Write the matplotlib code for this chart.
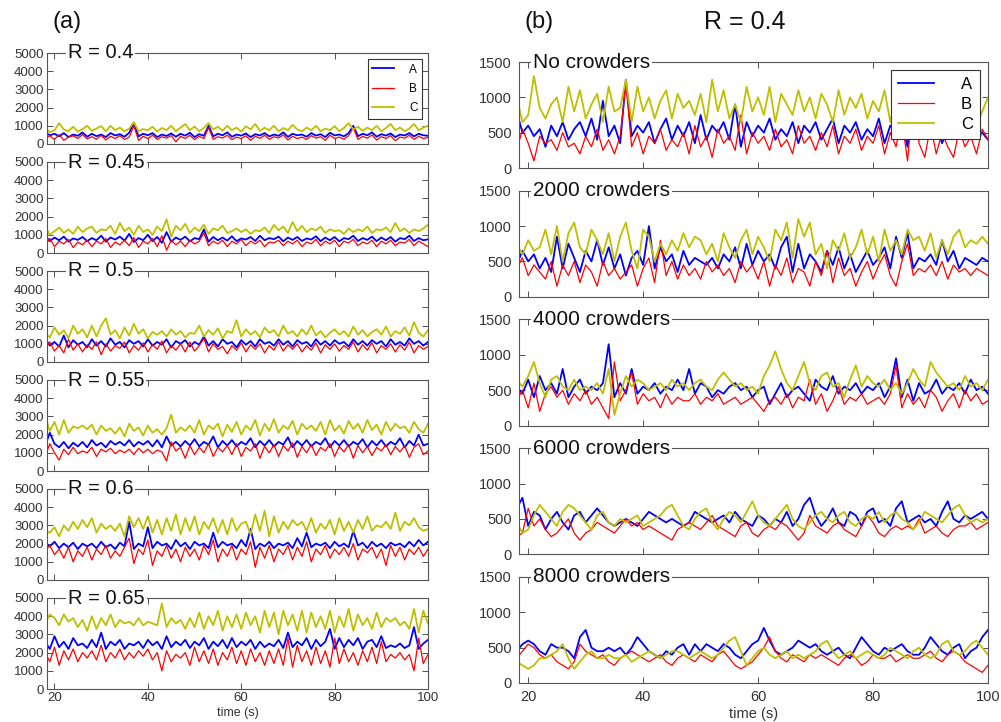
import numpy as np
import matplotlib
matplotlib.use('Agg')
import matplotlib.pyplot as plt

plt.rcParams['font.family'] = ['Liberation Sans', 'DejaVu Sans']

# sample times (s), one value per second
t_start = 18

# ---- panel (a): R sweep ----
a_labels = ['R = 0.4', 'R = 0.45', 'R = 0.5', 'R = 0.55', 'R = 0.6', 'R = 0.65']

r040_A = [650, 480, 560, 420, 600, 380, 520, 450, 640, 400, 560, 430, 520, 380, 600, 470, 540, 400, 620, 1150,
          420, 560, 480, 600, 380, 520, 440, 580, 400, 560, 460, 620, 380, 540, 450, 1000, 420, 560, 480, 640,
          400, 520, 460, 580, 380, 540, 470, 600, 420, 520, 450, 640, 390, 560, 480, 520, 400, 600, 460, 540,
          380, 620, 470, 520, 420, 600, 1000, 430, 560, 480, 640, 400, 540, 460, 580, 380, 520, 470, 600, 420,
          560, 480, 450]
r040_B = [300, 450, 250, 520, 200, 380, 450, 300, 520, 280, 400, 260, 480, 220, 420, 300, 460, 250, 380, 1000,
          200, 420, 300, 480, 250, 400, 320, 460, 120, 420, 300, 480, 240, 420, 300, 900, 260, 400, 330, 480,
          240, 380, 300, 450, 200, 420, 310, 480, 260, 400, 330, 500, 220, 420, 300, 380, 250, 460, 320, 400,
          200, 480, 300, 380, 260, 460, 900, 250, 420, 320, 500, 220, 400, 300, 460, 180, 380, 320, 480, 260,
          420, 300, 360]
r040_C = [900, 650, 750, 1150, 800, 700, 950, 680, 820, 1000, 720, 850, 980, 700, 1000, 760, 900, 700, 850, 1200,
          700, 820, 760, 950, 680, 880, 760, 1000, 700, 900, 1100, 760, 960, 700, 880, 1150, 800, 950, 720, 1000,
          760, 900, 680, 980, 800, 1100, 720, 900, 760, 1000, 700, 880, 760, 1050, 800, 700, 900, 760, 1000, 700,
          850, 760, 980, 700, 880, 1150, 800, 950, 720, 900, 760, 1000, 700, 880, 1100, 760, 900, 700, 850, 1100,
          760, 900, 1000]

r045_A = [950, 650, 850, 700, 900, 620, 800, 720, 880, 650, 820, 700, 950, 620, 850, 740, 900, 680, 1050, 600,
          820, 700, 1000, 650, 880, 560, 1150, 620, 850, 720, 900, 640, 820, 760, 1300, 620, 880, 700, 850, 680,
          920, 650, 800, 740, 880, 660, 950, 700, 820, 760, 900, 640, 850, 720, 880, 660, 800, 740, 920, 650,
          850, 700, 880, 640, 820, 760, 950, 660, 820, 720, 900, 650, 850, 700, 880, 620, 820, 760, 950, 660,
          820, 700, 750]
r045_B = [400, 800, 350, 650, 500, 750, 300, 600, 450, 700, 350, 650, 500, 800, 300, 600, 450, 700, 400, 850,
          300, 650, 500, 800, 350, 950, 150, 700, 450, 650, 350, 700, 500, 650, 1100, 400, 650, 500, 700, 350,
          650, 500, 750, 400, 650, 500, 700, 350, 600, 550, 700, 400, 650, 500, 700, 350, 600, 500, 750, 400,
          650, 500, 700, 350, 650, 550, 750, 400, 600, 500, 700, 350, 650, 500, 700, 400, 600, 550, 750, 400,
          650, 500, 350]
r045_C = [1500, 1000, 1200, 1400, 1100, 1300, 1050, 1450, 1150, 1350, 1450, 1100, 1300, 1250, 1500, 1050, 1650, 1200, 1400, 1000,
          1500, 1150, 1300, 1000, 1450, 1200, 1850, 900, 1500, 1250, 1600, 1100, 1400, 1200, 1550, 1050, 1350, 1250, 1500, 1100,
          1200, 1350, 1150, 1300, 1050, 1250, 1200, 1400, 1100, 1550, 1250, 1450, 1100, 1700, 1200, 1500, 1150, 1350, 1250, 1450,
          1100, 1300, 1200, 1250, 1050, 1350, 1150, 1300, 1200, 1450, 1100, 1300, 1250, 1400, 1150, 1650, 1200, 1350, 1100, 1300,
          1200, 1350, 1550]

r050_A = [1300, 900, 1100, 850, 1450, 800, 1200, 950, 1100, 800, 1250, 900, 1150, 850, 1300, 950, 1100, 800, 1200, 1000,
          1150, 850, 1250, 900, 1100, 950, 1250, 800, 1150, 1000, 1200, 850, 1100, 950, 1400, 900, 1150, 850, 1250, 1000,
          1100, 800, 1200, 950, 1150, 850, 1250, 1000, 1100, 900, 1250, 950, 1150, 850, 1200, 1000, 1100, 850, 1250, 950,
          1150, 900, 1200, 1000, 1100, 850, 1250, 950, 1150, 900, 1200, 1000, 1150, 850, 1250, 950, 1100, 900, 1300, 1000,
          1150, 900, 1100]
r050_B = [700, 1100, 600, 900, 500, 1250, 650, 1000, 550, 950, 700, 1100, 400, 1000, 600, 900, 750, 1100, 500, 900,
          650, 1050, 550, 950, 700, 1150, 500, 900, 650, 1000, 550, 1100, 600, 900, 1300, 550, 1000, 700, 850, 450,
          900, 650, 1050, 550, 950, 700, 1000, 500, 900, 650, 1100, 600, 950, 700, 1000, 550, 900, 650, 1050, 500,
          950, 700, 1000, 600, 900, 700, 1100, 550, 950, 650, 1050, 500, 900, 700, 1000, 550, 950, 650, 1100, 500,
          900, 700, 850]
r050_C = [1600, 1350, 1900, 1500, 1750, 1300, 2000, 1550, 1800, 1350, 2000, 1400, 2000, 2400, 1500, 1750, 1300, 1900, 1450, 2100,
          1550, 1800, 1300, 1650, 1500, 1700, 1400, 1800, 1500, 1700, 1350, 1600, 1550, 2000, 1400, 1750, 1500, 1850, 1300, 1700,
          1600, 2300, 1400, 1800, 1500, 1700, 1350, 1900, 1600, 1750, 1400, 2000, 1550, 1700, 1400, 1800, 1500, 2000, 1450, 1700,
          1350, 1600, 1800, 1500, 1700, 1400, 1950, 1500, 1750, 1400, 1650, 1800, 1500, 1950, 1400, 1700, 1550, 1900, 1450, 2200,
          1600, 1400, 1750]

r055_A = [1400, 2100, 1500, 1300, 1600, 1250, 1550, 1350, 1600, 1300, 1700, 1400, 1550, 1300, 1650, 1450, 1600, 1400, 1700, 1350,
          1600, 1450, 1650, 1350, 1700, 1300, 1900, 1400, 1600, 1350, 1650, 1400, 1750, 1350, 1600, 1450, 1900, 1300, 1650, 1400,
          1700, 1350, 1600, 1450, 1800, 1300, 1650, 1400, 1700, 1350, 1600, 1450, 1850, 1300, 1650, 1400, 1700, 1350, 1600, 1450,
          1800, 1300, 1650, 1400, 1700, 1350, 1600, 1450, 1750, 1300, 1650, 1400, 1700, 1350, 1600, 1450, 1800, 1300, 1650, 1400,
          2000, 1400, 1500]
r055_B = [800, 1500, 1000, 600, 1200, 900, 1300, 950, 1100, 1000, 1300, 800, 1200, 1050, 1250, 950, 1150, 1000, 1200, 900,
          1250, 1000, 1200, 950, 1150, 1050, 550, 1600, 1100, 1300, 700, 1400, 900, 1300, 1000, 1500, 800, 1300, 1050, 1400,
          900, 1500, 800, 1300, 1100, 1500, 700, 1350, 1000, 1450, 800, 1400, 1100, 1550, 750, 1350, 1000, 1450, 850, 1300,
          1100, 1500, 800, 1350, 1050, 1450, 700, 1400, 1000, 1350, 850, 1300, 1100, 1450, 900, 1350, 1050, 1400, 750, 1300,
          1500, 900, 1100]
r055_C = [3000, 2200, 2700, 2000, 2800, 2100, 2450, 2350, 2500, 2300, 2550, 2000, 2500, 2200, 2350, 2050, 2400, 1900, 2600, 2200,
          2400, 1950, 2500, 2100, 2300, 2000, 2350, 3100, 2100, 2400, 2200, 2500, 2100, 2800, 2000, 2500, 2300, 2600, 1900, 2550,
          2150, 2700, 2000, 2500, 2250, 2800, 1950, 2600, 2200, 2850, 2100, 2500, 2300, 2750, 2000, 2600, 2300, 2500, 2200, 2700,
          2000, 2800, 2200, 2500, 2050, 2750, 2300, 2600, 2100, 2800, 2250, 2550, 2000, 2700, 2200, 2600, 2350, 2450, 2100, 2700,
          2300, 2100, 2600]

r060_A = [2000, 1850, 2100, 1750, 2000, 1800, 2050, 1700, 2000, 1850, 2000, 1750, 2100, 1800, 1950, 1700, 2050, 1850, 3200, 1700,
          2000, 1850, 2900, 1750, 2100, 1900, 2000, 1700, 2200, 1850, 2050, 1700, 2100, 1900, 2000, 1750, 2600, 1800, 2100, 1900,
          2000, 1750, 2200, 1850, 2800, 1700, 2000, 1850, 2100, 1750, 2000, 1900, 2050, 1750, 2300, 1850, 2600, 1800, 2000, 1900,
          2050, 1750, 2100, 1850, 2000, 1800, 2700, 1900, 2050, 1750, 2100, 1850, 2000, 1750, 2050, 1900, 2000, 1800, 2100, 1850,
          2200, 1900, 2100]
r060_B = [1600, 1900, 1400, 1700, 1200, 1800, 1000, 1600, 1300, 1800, 1100, 1700, 1400, 1900, 1200, 1600, 1300, 1800, 2300, 900,
          1700, 1400, 2200, 800, 1600, 1300, 1900, 1200, 1700, 1000, 1800, 1300, 1700, 1100, 1900, 1400, 2200, 1000, 1700, 1300,
          1900, 1100, 1700, 1400, 2100, 700, 1800, 1200, 1900, 1000, 1700, 1400, 1900, 1100, 1800, 1300, 2100, 1000, 1700, 1400,
          1900, 1200, 1700, 1400, 1800, 1300, 2000, 1100, 1700, 1500, 1800, 1200, 1700, 800, 1900, 1300, 1800, 1100, 1700, 1400,
          1800, 1300, 1700]
r060_C = [2700, 2600, 2900, 2400, 3000, 2700, 3200, 2800, 3300, 2900, 3400, 2600, 3100, 2800, 3000, 2700, 3100, 2400, 3500, 2900,
          3400, 2800, 3500, 2600, 3300, 2500, 3400, 2700, 3600, 2500, 3400, 2700, 3500, 2500, 3200, 2800, 3400, 2600, 3300, 2500,
          3400, 2700, 3100, 3200, 2500, 3600, 2700, 3800, 2400, 3500, 2600, 3200, 2800, 3300, 3000, 3200, 2700, 3400, 2600, 3100,
          2800, 3300, 2500, 3400, 2700, 3200, 2600, 3300, 2800, 3500, 2700, 3000, 2900, 3200, 2800, 3700, 2700, 3200, 3000, 3400,
          2900, 2700, 2800]

r065_A = [2600, 2200, 2900, 2300, 2600, 2200, 2800, 2400, 2500, 2250, 2700, 2300, 3100, 2200, 2600, 2400, 2700, 2200, 2500, 2400,
          2600, 2250, 2700, 2400, 2600, 2200, 2900, 2300, 2600, 2400, 2700, 2250, 2600, 2400, 2800, 2200, 2600, 2350, 2700, 2250,
          2800, 2300, 2600, 2400, 2700, 2200, 2600, 2300, 2500, 2350, 2700, 2250, 3100, 2300, 2600, 2400, 2800, 2200, 2700, 2350,
          2600, 3300, 2200, 2800, 2300, 2700, 2400, 2800, 2200, 2600, 2700, 2300, 2900, 2250, 2400, 2300, 2500, 2250, 2400, 3400,
          2200, 2500, 2700]
r065_B = [2000, 1500, 2300, 1300, 2100, 1600, 2200, 1500, 2000, 1700, 2100, 1600, 2400, 1500, 2000, 1700, 2200, 1600, 2000, 1700,
          2100, 1800, 2200, 1600, 2000, 1000, 2100, 1500, 1900, 1700, 2000, 1300, 2300, 1500, 2100, 1400, 2200, 1300, 2000, 1600,
          2300, 1400, 2100, 1300, 2200, 1500, 2000, 1300, 2100, 1400, 2200, 1300, 2800, 1200, 2400, 1500, 2100, 1300, 2300, 1400,
          2100, 1200, 2800, 1400, 2200, 1500, 2000, 1300, 2100, 1500, 2300, 1400, 2600, 1500, 1900, 1700, 2000, 1600, 1900, 1000,
          2800, 1400, 1900]
r065_C = [3600, 4100, 3900, 3500, 4100, 3700, 3900, 3400, 3800, 3200, 4000, 3300, 3900, 3500, 4100, 3400, 3800, 3600, 3700, 3500,
          3900, 3500, 3700, 3600, 3500, 4700, 3400, 3900, 3600, 3800, 3300, 3900, 3400, 4200, 3300, 4000, 3500, 4300, 3200, 4000,
          3400, 4100, 3300, 4200, 3500, 4000, 3100, 4300, 3400, 4200, 3000, 4300, 3500, 4100, 3200, 4300, 3100, 4200, 3400, 4000,
          3300, 4300, 3100, 4000, 3400, 4400, 3200, 4100, 3500, 3900, 3300, 4200, 3400, 3900, 3700, 3900, 3500, 3700, 3300, 4400,
          3100, 4300, 3600]

# ---- panel (b): R = 0.4 with crowders ----
b_labels = ['No crowders', '2000 crowders', '4000 crowders', '6000 crowders', '8000 crowders']

c0_A = [800, 500, 600, 450, 550, 300, 600, 450, 650, 400, 550, 650, 450, 700, 400, 950, 450, 600, 350, 1250,
        450, 600, 500, 650, 350, 550, 700, 400, 600, 450, 650, 350, 750, 400, 600, 500, 650, 400, 900, 300,
        650, 450, 600, 500, 700, 400, 550, 450, 650, 350, 600, 500, 650, 400, 550, 700, 350, 600, 500, 650,
        400, 550, 450, 700, 350, 600, 500, 650, 300, 1050, 400, 500, 450, 600, 350, 550, 450, 500, 400, 550,
        450, 500, 400]
c0_B = [250, 550, 350, 100, 450, 350, 400, 250, 500, 300, 350, 200, 450, 300, 550, 250, 400, 200, 450, 1200,
        300, 500, 200, 450, 350, 550, 250, 400, 300, 500, 200, 600, 300, 450, 150, 550, 350, 450, 250, 750,
        200, 500, 350, 450, 250, 550, 300, 400, 200, 600, 350, 450, 250, 500, 300, 600, 200, 450, 350, 550,
        250, 450, 350, 600, 200, 500, 300, 700, 100, 1000, 350, 150, 600, 200, 500, 300, 150, 550, 300, 450,
        200, 550, 400]
c0_C = [1000, 650, 750, 1300, 850, 700, 900, 1000, 650, 1150, 800, 1100, 700, 900, 1050, 650, 1150, 800, 850, 1250,
        650, 1150, 800, 1000, 700, 950, 1100, 700, 1050, 850, 950, 750, 1050, 650, 1250, 800, 1100, 700, 900, 650,
        1150, 800, 1000, 750, 1150, 650, 1050, 900, 750, 1100, 800, 1000, 700, 1050, 900, 650, 1100, 750, 1000, 850,
        1050, 700, 950, 800, 1100, 650, 1000, 1300, 800, 1000, 700, 950, 850, 1050, 650, 1000, 800, 950, 700, 850,
        600, 800, 1000]

c2000_A = [450, 650, 500, 600, 400, 550, 350, 850, 400, 750, 550, 350, 650, 500, 800, 450, 700, 400, 600, 300,
           550, 650, 450, 1000, 400, 700, 500, 600, 350, 650, 450, 550, 500, 450, 550, 400, 600, 500, 700, 400,
           750, 450, 650, 500, 600, 400, 700, 850, 350, 750, 400, 600, 500, 350, 650, 450, 700, 400, 600, 350,
           500, 650, 450, 550, 700, 400, 850, 550, 900, 400, 550, 500, 600, 450, 800, 500, 650, 400, 550, 500,
           450, 550, 500]
c2000_B = [400, 550, 300, 450, 350, 250, 500, 150, 450, 300, 500, 200, 450, 350, 150, 500, 300, 400, 250, 350,
           450, 150, 400, 550, 200, 800, 300, 500, 250, 450, 300, 400, 250, 500, 350, 450, 300, 400, 200, 500,
           350, 450, 250, 500, 150, 450, 300, 550, 200, 400, 350, 150, 500, 300, 650, 200, 550, 300, 400, 150,
           350, 500, 250, 450, 600, 300, 150, 500, 750, 300, 400, 350, 450, 300, 500, 250, 450, 350, 400, 300,
           400, 350, 300]
c2000_C = [750, 600, 800, 650, 700, 950, 600, 1000, 500, 900, 1050, 700, 600, 950, 800, 600, 900, 500, 850, 1050,
           650, 400, 950, 850, 500, 750, 600, 800, 650, 900, 700, 850, 800, 600, 750, 500, 900, 700, 550, 800,
           950, 600, 850, 700, 500, 950, 800, 1050, 550, 1100, 850, 1050, 600, 750, 400, 800, 650, 900, 550, 700,
           950, 600, 850, 500, 950, 650, 800, 600, 950, 800, 850, 650, 900, 550, 800, 600, 850, 950, 700, 800,
           750, 850, 750]

c4000_A = [550, 450, 650, 400, 700, 500, 600, 450, 800, 400, 550, 650, 450, 550, 500, 600, 1150, 400, 600, 450,
           800, 450, 550, 500, 600, 450, 550, 500, 650, 500, 800, 450, 600, 550, 400, 500, 450, 550, 600, 500,
           550, 400, 500, 550, 300, 450, 600, 400, 500, 550, 450, 350, 650, 550, 500, 700, 450, 550, 500, 600,
           450, 550, 500, 600, 400, 550, 950, 400, 650, 350, 600, 450, 500, 650, 450, 550, 500, 600, 450, 650,
           500, 550, 450]
c4000_B = [350, 500, 250, 600, 200, 450, 550, 400, 500, 300, 450, 350, 500, 300, 400, 250, 100, 900, 350, 500,
           750, 300, 450, 350, 400, 250, 450, 300, 400, 350, 350, 450, 300, 400, 350, 450, 300, 350, 400, 300,
           350, 400, 300, 200, 350, 400, 300, 450, 250, 400, 350, 650, 300, 450, 200, 350, 550, 300, 400, 350,
           450, 300, 350, 400, 300, 450, 850, 250, 450, 300, 400, 250, 500, 400, 200, 350, 450, 250, 500, 350,
           450, 300, 350]
c4000_C = [650, 550, 700, 900, 600, 400, 650, 700, 550, 500, 650, 500, 550, 500, 600, 450, 800, 150, 450, 700,
           550, 650, 600, 500, 550, 600, 500, 650, 550, 600, 500, 600, 650, 550, 500, 650, 750, 650, 550, 600,
           500, 550, 450, 700, 850, 1050, 800, 600, 500, 700, 900, 600, 500, 700, 750, 550, 600, 400, 650, 850,
           550, 700, 600, 550, 650, 500, 600, 450, 600, 800, 650, 550, 900, 750, 650, 550, 600, 500, 700, 550,
           600, 500, 650]

c6000_A = [650, 800, 400, 600, 550, 350, 500, 600, 450, 350, 550, 600, 450, 550, 650, 550, 450, 400, 450, 500,
           450, 400, 500, 600, 550, 500, 450, 500, 450, 400, 450, 600, 550, 500, 450, 500, 550, 450, 600, 500,
           450, 400, 550, 500, 400, 500, 450, 600, 400, 500, 700, 800, 550, 400, 500, 650, 450, 400, 600, 550,
           400, 600, 650, 450, 500, 400, 650, 750, 450, 500, 550, 450, 500, 400, 600, 750, 500, 450, 550, 500,
           550, 600, 500]
c6000_B = [250, 300, 650, 400, 500, 350, 250, 300, 400, 500, 300, 200, 300, 350, 450, 400, 350, 300, 400, 500,
           400, 450, 350, 400, 350, 300, 250, 200, 350, 400, 450, 400, 350, 450, 550, 400, 350, 300, 250, 400,
           450, 300, 250, 350, 400, 350, 450, 400, 300, 200, 300, 550, 400, 350, 300, 400, 450, 350, 300, 250,
           400, 550, 450, 300, 250, 350, 400, 350, 400, 350, 500, 300, 350, 400, 300, 250, 350, 400, 400, 450,
           350, 400, 450]
c6000_C = [450, 300, 350, 550, 700, 600, 500, 400, 600, 700, 650, 550, 450, 350, 550, 600, 450, 400, 500, 450,
           500, 550, 400, 450, 500, 550, 650, 700, 550, 400, 350, 500, 600, 650, 450, 350, 500, 600, 550, 450,
           600, 750, 550, 450, 400, 500, 600, 700, 500, 400, 350, 450, 550, 600, 500, 450, 550, 600, 450, 400,
           500, 550, 500, 600, 450, 550, 600, 500, 450, 350, 450, 600, 550, 500, 450, 550, 650, 700, 550, 450,
           500, 450, 500]

c8000_A = [450, 550, 600, 550, 450, 400, 550, 500, 500, 450, 350, 650, 750, 500, 450, 450, 500, 450, 500, 400,
           500, 650, 550, 450, 400, 350, 450, 400, 500, 550, 400, 550, 450, 550, 500, 450, 550, 500, 400, 350,
           450, 550, 600, 780, 600, 450, 400, 450, 500, 600, 550, 500, 550, 450, 400, 450, 500, 400, 350, 500,
           650, 550, 450, 400, 500, 450, 500, 550, 450, 400, 400, 500, 650, 550, 450, 400, 500, 550, 350, 450,
           500, 650, 750]
c8000_B = [350, 450, 550, 500, 400, 350, 400, 300, 250, 200, 300, 550, 450, 400, 350, 400, 300, 250, 350, 400,
           450, 400, 350, 300, 350, 400, 300, 250, 350, 400, 350, 300, 400, 350, 300, 400, 450, 350, 250, 200,
           250, 300, 400, 500, 650, 450, 350, 300, 400, 350, 300, 400, 350, 400, 350, 300, 250, 350, 400, 350,
           250, 300, 400, 350, 350, 400, 300, 350, 400, 350, 350, 400, 450, 350, 300, 400, 450, 400, 300, 250,
           200, 150, 250]
c8000_C = [300, 250, 200, 250, 350, 350, 400, 450, 550, 350, 200, 300, 400, 450, 350, 350, 400, 350, 350, 400,
           300, 350, 400, 450, 400, 350, 400, 450, 450, 400, 350, 400, 450, 400, 350, 400, 500, 600, 650, 450,
           250, 350, 450, 500, 400, 350, 400, 450, 350, 400, 350, 400, 450, 550, 600, 450, 350, 400, 450, 350,
           400, 450, 400, 350, 400, 500, 450, 400, 350, 450, 500, 400, 350, 400, 550, 600, 450, 400, 450, 550,
           600, 500, 400]

a_data = [(r040_A, r040_B, r040_C), (r045_A, r045_B, r045_C), (r050_A, r050_B, r050_C),
          (r055_A, r055_B, r055_C), (r060_A, r060_B, r060_C), (r065_A, r065_B, r065_C)]
b_data = [(c0_A, c0_B, c0_C), (c2000_A, c2000_B, c2000_C), (c4000_A, c4000_B, c4000_C),
          (c6000_A, c6000_B, c6000_C), (c8000_A, c8000_B, c8000_C)]

cols = ['#0000ff', '#ff0000', '#bfbf00']
lws = [1.3, 0.9, 1.3]
names = ['A', 'B', 'C']

W, H = 1001, 722
fig = plt.figure(figsize=(W/100, H/100), dpi=100)


def setup(ax, label, ymax, ystep, tsize, lsize, lx, pad, bottom):
    ax.set_xlim(18.4, 100)
    ax.set_ylim(0, ymax)
    ax.set_xticks([20, 40, 60, 80, 100])
    ax.set_yticks(np.arange(0, ymax + 1, ystep))
    ax.tick_params(direction='in', top=True, right=True, length=4, width=0.6,
                   labelsize=tsize, colors='#333333', pad=pad)
    if not bottom:
        ax.set_xticklabels([])
    for s in ax.spines.values():
        s.set_color('#555555')
        s.set_linewidth(0.8)
    ax.text(lx, 1.0, label, transform=ax.transAxes,
            ha='left', va='center', fontsize=lsize, color='#111111',
            bbox=dict(facecolor='white', edgecolor='none', pad=1.5))


def draw(ax, series):
    for y, c, lw, n in zip(series, cols, lws, names):
        ax.plot(np.arange(t_start, t_start + len(y)), y, color=c, lw=lw, label=n)


# left column
for i, (lab, ser) in enumerate(zip(a_labels, a_data)):
    top = 53 + 109 * i
    ax = fig.add_axes([47/W, (H - top - 91)/H, 381/W, 91/H])
    draw(ax, ser)
    setup(ax, lab, 5000, 1000, 9.5, 14.5, 0.055, 2.5, i == len(a_labels) - 1)
    if i == 0:
        leg = ax.legend(loc='upper right', fontsize=8.5, fancybox=False, framealpha=1,
                        edgecolor='#333333', handlelength=1.8, borderaxespad=0.5,
                        labelspacing=0.6, handletextpad=1.3)
        leg.get_frame().set_linewidth(0.8)
    if i == len(a_labels) - 1:
        ax.set_xlabel('time (s)', fontsize=9, labelpad=2, color='#333333')

# right column
for i, (lab, ser) in enumerate(zip(b_labels, b_data)):
    top = 62 + 128.75 * i
    ax = fig.add_axes([519/W, (H - top - 106)/H, 469/W, 106/H])
    draw(ax, ser)
    setup(ax, lab, 1500, 500, 10.5, 15, 0.03, 5, i == len(b_labels) - 1)
    if i == 0:
        leg = ax.legend(loc='upper right', fontsize=12, fancybox=False, framealpha=1,
                        edgecolor='#333333', handlelength=2.2, borderaxespad=0.5,
                        labelspacing=0.3, handletextpad=1.6)
        leg.get_frame().set_linewidth(0.8)
    if i == len(b_labels) - 1:
        ax.set_xlabel('time (s)', fontsize=10.5, labelpad=2, color='#333333')

fig.text(53/W, 1 - 22/H, '(a)', fontsize=17, ha='left', va='center', color='#111111')
fig.text(524/W, 1 - 22/H, '(b)', fontsize=17, ha='left', va='center', color='#111111')
fig.text(745/W, 1 - 22/H, 'R = 0.4', fontsize=18, ha='center', va='center', color='#111111')

fig.savefig('out.png', dpi=100)
